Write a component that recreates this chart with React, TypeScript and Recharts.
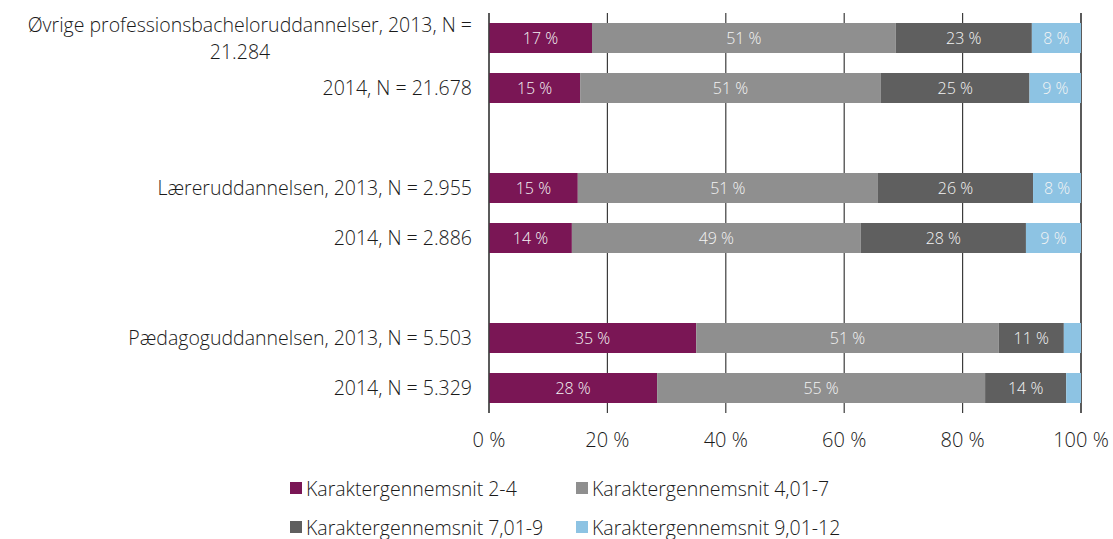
import React from 'react';
import { BarChart, Bar, XAxis, YAxis, CartesianGrid, LabelList } from 'recharts';

// rows, blank strings are the spacer rows between groups
const categories = [
  'Øvrige professionsbacheloruddannelser, 2013, N =\n21.284',
  '2014, N = 21.678',
  '',
  'Læreruddannelsen, 2013, N = 2.955',
  '2014, N = 2.886',
  '',
  'Pædagoguddannelsen, 2013, N = 5.503',
  '2014, N = 5.329',
];

const grade24 = [17.4, 15.4, null, 15.0, 14.0, null, 35.0, 28.4];
const grade47 = [51.3, 50.8, null, 50.7, 48.8, null, 51.1, 55.4];
const grade79 = [23.0, 25.1, null, 26.2, 27.9, null, 11.0, 13.7];
const grade912 = [8.3, 8.7, null, 8.1, 9.3, null, 2.9, 2.5];

const xTicks = [0, 20, 40, 60, 80, 100];

const series = [
  { key: 'g1', name: 'Karaktergennemsnit 2-4', color: '#7a1655', values: grade24 },
  { key: 'g2', name: 'Karaktergennemsnit 4,01-7', color: '#8f8f8f', values: grade47 },
  { key: 'g3', name: 'Karaktergennemsnit 7,01-9', color: '#5f5f5f', values: grade79 },
  { key: 'g4', name: 'Karaktergennemsnit 9,01-12', color: '#8dc3e3', values: grade912 },
];

const data = categories.map((name, i) => {
  const row: any = { name, id: i };
  series.forEach((s) => {
    row[s.key] = s.values[i];
  });
  return row;
});

const FONT = '"Open Sans", "Noto Sans", sans-serif';
const TXT = '#1a1a1a';

function CategoryTick(props: any) {
  const { x, y, payload } = props;
  const lines = String(payload.value).split('\n');
  if (lines.length === 1) {
    return (
      <text x={x} y={y} dy={7} textAnchor="end" fontSize={19.5} fontWeight={300} fill={TXT} fontFamily={FONT}>
        {lines[0]}
      </text>
    );
  }
  return (
    <g>
      <text x={x} y={y - 6} textAnchor="end" fontSize={19.5} fontWeight={300} fill={TXT} fontFamily={FONT}>
        {lines[0]}
      </text>
      <text x={x - 232} y={y + 21} textAnchor="middle" fontSize={19.5} fontWeight={300} fill={TXT} fontFamily={FONT}>
        {lines[1]}
      </text>
    </g>
  );
}

const pctLabel = (v: any) => (v == null || v < 5 ? '' : `${Math.round(v)} %`);

export default function App() {
  return (
    <div style={{ position: 'absolute', left: 0, top: 0, width: 1113, height: 539, background: '#fff', fontFamily: FONT }}>
      <BarChart
        width={1113}
        height={539}
        layout="vertical"
        data={data}
        margin={{ top: 13, right: 32, bottom: 96, left: 0 }}
        barSize={30}
      >
        <CartesianGrid horizontal={false} stroke="#3c3c3c" strokeWidth={1.2} />
        <XAxis
          type="number"
          domain={[0, 100]}
          ticks={xTicks}
          tickFormatter={(v) => `${v} %`}
          axisLine={false}
          tickLine={false}
          tickMargin={14}
          height={30}
          tick={{ fontSize: 20, fontWeight: 300, fill: TXT, fontFamily: FONT }}
        />
        <YAxis
          type="category"
          dataKey="id"
          width={489}
          axisLine={{ stroke: '#3c3c3c', strokeWidth: 1.2 }}
          tickLine={false}
          tickSize={0}
          tickMargin={17}
          interval={0}
          tick={(p: any) => <CategoryTick {...p} payload={{ ...p.payload, value: categories[p.payload.value] }} />}
        />
        {series.map((s) => (
          <Bar key={s.key} dataKey={s.key} name={s.name} stackId="a" fill={s.color} isAnimationActive={false}>
            <LabelList
              dataKey={s.key}
              position="center"
              formatter={pctLabel}
              fill="#f4f4f4"
              fontSize={16}
              fontWeight={300}
              fontFamily={FONT}
            />
          </Bar>
        ))}
      </BarChart>
      <div
        style={{
          position: 'absolute',
          left: 290,
          top: 476,
          display: 'grid',
          gridTemplateColumns: '286px 300px',
          rowGap: 15,
          fontSize: 19.5,
          fontWeight: 300,
          color: TXT,
        }}
      >
        {series.map((s) => (
          <div key={s.key} style={{ display: 'flex', alignItems: 'center', height: 24, whiteSpace: 'nowrap' }}>
            <span style={{ width: 12, height: 12, background: s.color, marginRight: 4, display: 'inline-block', flex: 'none' }} />
            {s.name}
          </div>
        ))}
      </div>
    </div>
  );
}
